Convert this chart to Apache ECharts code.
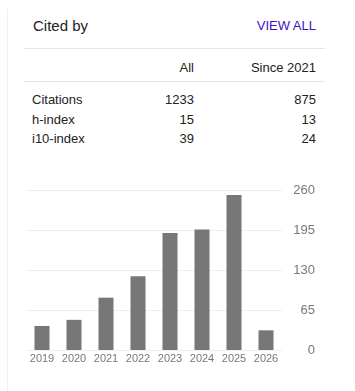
<!DOCTYPE html>
<html>
<head>
<meta charset="utf-8">
<script src="https://cdn.jsdelivr.net/npm/echarts@6/dist/echarts.min.js"></script>
<style>
  html, body { margin: 0; padding: 0; background: #fff; width: 355px; height: 391px; overflow: hidden; }
  body { position: relative; font-family: "Liberation Sans", Arial, sans-serif; color: #222; }
  .t { position: absolute; white-space: nowrap; line-height: 20px; font-size: 13px; }
  .r { text-align: right; }
  .hl { position: absolute; left: 24px; width: 301px; height: 1px; background: #e6e6e6; }
  #border { position: absolute; left: 7px; top: 9px; width: 1px; height: 382px; background: #eee; }
  #chart { position: absolute; left: 0; top: 160px; width: 355px; height: 231px; }
</style>
</head>
<body>
<div id="border"></div>
<div class="t" id="title" style="left:33px; top:15.5px; font-size:15px;"></div>
<div class="t r" id="viewall" style="right:39px; top:16px; color:#3a12c4;"></div>
<div class="hl" style="top:48px;"></div>
<div class="hl" style="top:81px;"></div>
<div id="table"></div>
<div id="chart"></div>
<script>
// ---- data ----
var titleText = "Cited by";
var linkText = "VIEW ALL";
var colHeaders = ["All", "Since 2021"];
var rowLabels = ["Citations", "h-index", "i10-index"];
var allValues = [1233, 15, 39];
var sinceValues = [875, 13, 24];
var years = ["2019", "2020", "2021", "2022", "2023", "2024", "2025", "2026"];
var citations = [39, 49, 85, 120, 190, 196, 252, 32];
var yTicks = [0, 65, 130, 195, 260];

// ---- header & table ----
document.getElementById('title').textContent = titleText;
document.getElementById('viewall').textContent = linkText;
var table = document.getElementById('table');
function addText(txt, left, right, top) {
  var d = document.createElement('div');
  d.className = 't' + (right != null ? ' r' : '');
  if (left != null) d.style.left = left + 'px';
  if (right != null) d.style.right = right + 'px';
  d.style.top = top + 'px';
  d.textContent = txt;
  table.appendChild(d);
}
addText(colHeaders[0], null, 355 - 194, 58);
addText(colHeaders[1], null, 355 - 316, 58);
var rowTops = [90, 109.7, 129.2];
for (var i = 0; i < rowLabels.length; i++) {
  addText(rowLabels[i], 32, null, rowTops[i]);
  addText(String(allValues[i]), null, 355 - 194, rowTops[i]);
  addText(String(sinceValues[i]), null, 355 - 316, rowTops[i]);
}

// ---- chart ----
var chart = echarts.init(document.getElementById('chart'), null, { renderer: 'canvas' });
chart.setOption({
  animation: false,
  textStyle: { fontFamily: '"Liberation Sans", Arial, sans-serif' },
  grid: { left: 26, top: 30, width: 256, height: 160, containLabel: false },
  xAxis: {
    type: 'category',
    data: years,
    axisLine: { show: false },
    axisTick: { show: false },
    axisLabel: { color: '#777', fontSize: 11, margin: 3, fontFamily: '"Liberation Sans", Arial, sans-serif' }
  },
  yAxis: {
    type: 'value',
    position: 'right',
    min: yTicks[0],
    max: yTicks[yTicks.length - 1],
    interval: yTicks[1] - yTicks[0],
    axisLine: { show: false },
    axisTick: { show: false },
    splitLine: { lineStyle: { color: '#eee', width: 1 } },
    axisLabel: { color: '#777', fontSize: 13, align: 'right', margin: 33, fontFamily: '"Liberation Sans", Arial, sans-serif' }
  },
  series: [{
    type: 'bar',
    data: citations,
    barWidth: 15,
    itemStyle: { color: '#777' }
  }]
});
</script>
</body>
</html>
